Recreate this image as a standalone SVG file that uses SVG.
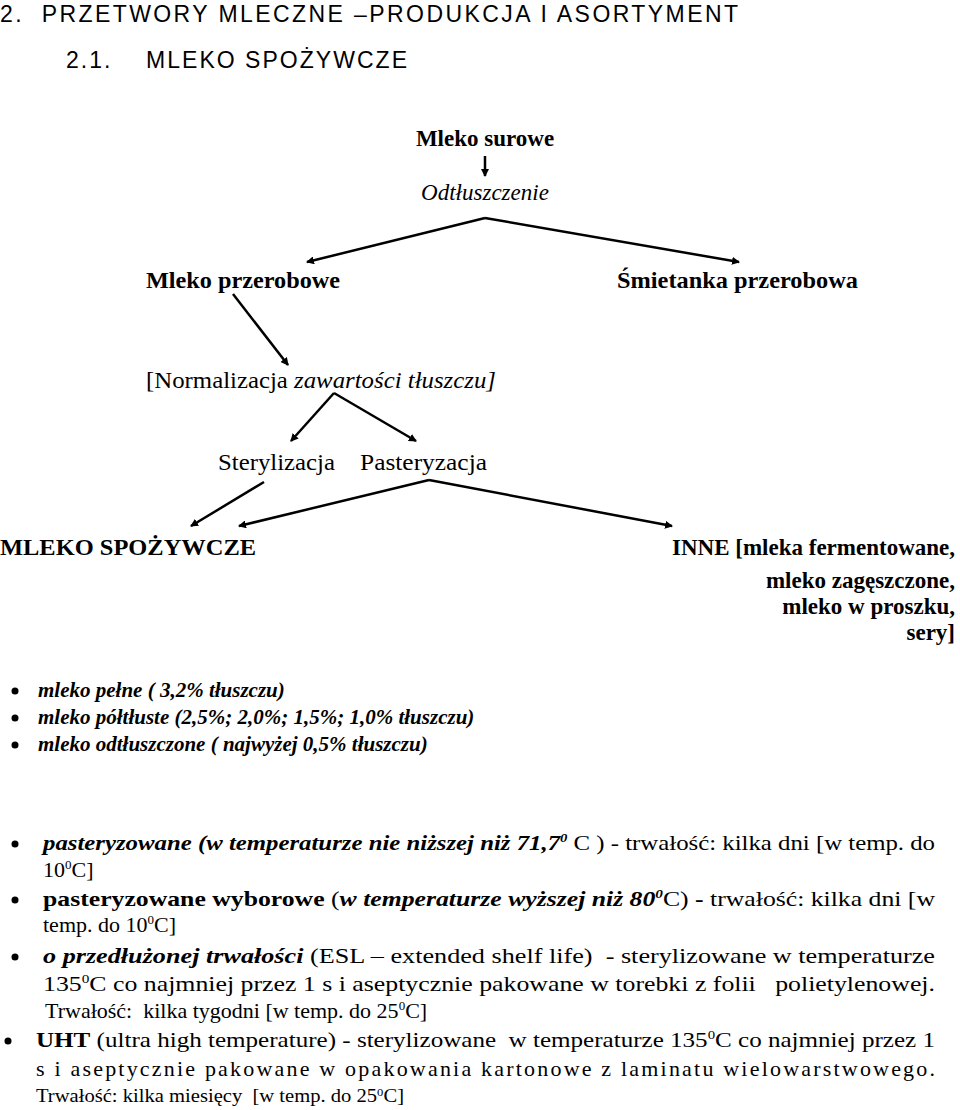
<svg xmlns="http://www.w3.org/2000/svg" width="960" height="1110" viewBox="0 0 960 1110">
<style>
text{font-family:"Liberation Serif",serif;font-size:23px;fill:#000;white-space:pre}
.s{font-family:"Liberation Sans",sans-serif;font-size:23px}
.b{font-weight:bold}.i{font-style:italic}
.c{stroke:#000;stroke-width:2.5;fill:none;marker-end:url(#a)}
.d{font-size:22px}
</style>
<defs><marker id="a" markerWidth="8" markerHeight="8" refX="7" refY="4" orient="auto" markerUnits="userSpaceOnUse" viewBox="0 0 8 8"><path d="M0,0L8,4L0,8z"/></marker></defs>
<text class="s" x="0" y="22" textLength="738" lengthAdjust="spacing">2.  PRZETWORY MLECZNE –PRODUKCJA I ASORTYMENT</text>
<text class="s" x="66" y="68" textLength="341" lengthAdjust="spacing">2.1.    MLEKO SPOŻYWCZE</text>
<g id="surowe"><text class="b" x="485" y="146" text-anchor="middle">Mleko surowe</text></g>
<g id="odtl"><text class="i" x="485" y="200" text-anchor="middle">Odtłuszczenie</text></g>
<g id="przerob"><text class="b" x="146" y="288" textLength="194" lengthAdjust="spacingAndGlyphs">Mleko przerobowe</text></g>
<g id="smiet"><text class="b" x="617" y="288" textLength="241" lengthAdjust="spacingAndGlyphs">Śmietanka przerobowa</text></g>
<g id="norm"><text x="146" y="388" textLength="350" lengthAdjust="spacingAndGlyphs">[Normalizacja <tspan class="i">zawartości tłuszczu]</tspan></text></g>
<g id="ster"><text x="218" y="470" textLength="117" lengthAdjust="spacingAndGlyphs">Sterylizacja</text></g>
<g id="past"><text x="360" y="470" textLength="127" lengthAdjust="spacingAndGlyphs">Pasteryzacja</text></g>
<g id="spoz"><text class="b" x="0" y="555" textLength="256" lengthAdjust="spacingAndGlyphs">MLEKO SPOŻYWCZE</text></g>
<g id="inne"><text class="b" text-anchor="end" x="955" y="555">INNE [mleka fermentowane,</text>
<text class="b" text-anchor="end" x="955" y="588">mleko zagęszczone,</text>
<text class="b" text-anchor="end" x="955" y="614">mleko w proszku,</text>
<text class="b" text-anchor="end" x="955" y="640">sery]</text></g>
<g id="connectors">
<path class="c" d="M485,156V176"/>
<path class="c" d="M485,218L307,262"/>
<path class="c" d="M485,218L739,262"/>
<path class="c" d="M233,294L288,365"/>
<path class="c" d="M334,393L291,441"/>
<path class="c" d="M334,393L416,441"/>
<path class="c" d="M264,482L191,526"/>
<path class="c" d="M429,480L239,526"/>
<path class="c" d="M429,480L672,526"/>
</g>
<g id="list1">
<circle cx="15" cy="691" r="3.5"/><circle cx="15" cy="718" r="3.5"/><circle cx="15" cy="745" r="3.5"/>
<text class="b i" style="font-size:21px" x="38" y="697">mleko pełne ( 3,2% tłuszczu)</text>
<text class="b i" style="font-size:21px" x="38" y="724">mleko półtłuste (2,5%; 2,0%; 1,5%; 1,0% tłuszczu)</text>
<text class="b i" style="font-size:21px" x="38" y="751">mleko odtłuszczone ( najwyżej 0,5% tłuszczu)</text>
</g>
<g id="list2">
<circle cx="15" cy="844" r="3.5"/><circle cx="15" cy="900" r="3.5"/><circle cx="15" cy="957" r="3.5"/><circle cx="8" cy="1041" r="3.5"/>
<text class="d" x="43" y="850" textLength="892" lengthAdjust="spacingAndGlyphs"><tspan class="b i">pasteryzowane (w temperaturze nie niższej niż 71,7</tspan><tspan class="b i" font-size="13" dy="-8">0</tspan><tspan dy="8"> C ) - trwałość: kilka dni [w temp. do</tspan></text>
<text class="d" x="43" y="877">10<tspan font-size="13" dy="-8">0</tspan><tspan dy="8">C]</tspan></text>
<text class="d" x="43" y="906" textLength="892" lengthAdjust="spacingAndGlyphs"><tspan class="b">pasteryzowane wyborowe</tspan> (<tspan class="b i">w temperaturze wyższej niż 80</tspan><tspan class="b i" font-size="13" dy="-8">0</tspan><tspan dy="8">C) <tspan class="b">-</tspan> trwałość: kilka dni [w</tspan></text>
<text class="d" x="43" y="932">temp. do 10<tspan font-size="13" dy="-8">0</tspan><tspan dy="8">C]</tspan></text>
<text class="d" x="43" y="963" textLength="892" lengthAdjust="spacingAndGlyphs"><tspan class="b i">o przedłużonej trwałości</tspan> (ESL – extended shelf life)  - sterylizowane w temperaturze</text>
<text class="d" x="43" y="991" textLength="892" lengthAdjust="spacingAndGlyphs">135<tspan font-size="13" dy="-8">0</tspan><tspan dy="8">C co najmniej przez 1 s i aseptycznie pakowane w torebki z folii   polietylenowej.</tspan></text>
<text class="d" x="45" y="1018">Trwałość:  kilka tygodni [w temp. do 25<tspan font-size="13" dy="-8">0</tspan><tspan dy="8">C]</tspan></text>
<text class="d" x="36" y="1047" textLength="899" lengthAdjust="spacingAndGlyphs"><tspan class="b">UHT</tspan> (ultra high temperature) - sterylizowane  w temperaturze 135<tspan font-size="13" dy="-8">0</tspan><tspan dy="8">C co najmniej przez 1</tspan></text>
<text class="d" x="36" y="1076" textLength="899" lengthAdjust="spacing">s i aseptycznie pakowane w opakowania kartonowe z laminatu wielowarstwowego.</text>
<text x="36" y="1102" style="font-size:18px" textLength="368" lengthAdjust="spacingAndGlyphs">Trwałość: kilka miesięcy  [w temp. do 25<tspan font-size="11" dy="-6">0</tspan><tspan dy="6">C]</tspan></text>
</g>
</svg>
